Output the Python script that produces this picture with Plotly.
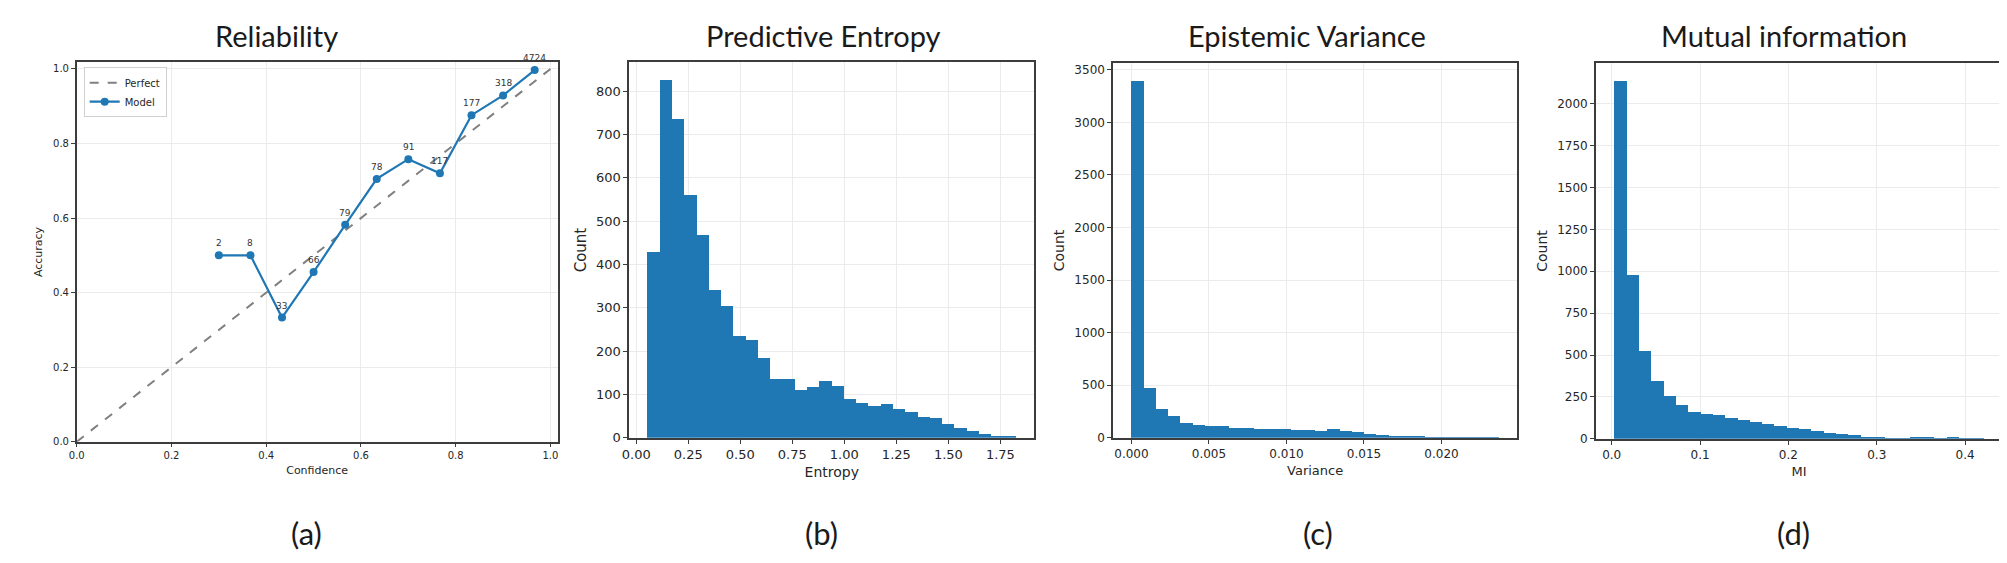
import plotly.graph_objects as go

W, H = 2007, 563

# ---------------- data ----------------
# (a) reliability diagram
conf_centers = [0.3, 0.3667, 0.4333, 0.5, 0.5667, 0.6333, 0.7, 0.7667, 0.8333, 0.9, 0.9667]
accuracy = [0.5, 0.5, 0.333, 0.455, 0.582, 0.705, 0.758, 0.72, 0.876, 0.929, 0.997]
bin_counts = [2, 8, 33, 66, 79, 78, 91, 117, 177, 318, 4724]
perfect_x = [0.0, 1.0]
perfect_y = [0.0, 1.0]

# (b) predictive entropy histogram (30 bins)
entropy_start, entropy_width = 0.055, 0.059
entropy_counts = [428, 825, 736, 559, 467, 340, 303, 235, 226, 184,
                  135, 135, 110, 116, 130, 118, 88, 80, 72, 78,
                  65, 60, 47, 45, 32, 22, 15, 8, 4, 2]

# (c) epistemic variance histogram (30 bins)
variance_start, variance_width = 0.0, 0.00079
variance_counts = [3393, 470, 270, 210, 140, 120, 115, 110, 95, 90,
                   85, 80, 78, 75, 70, 65, 80, 65, 50, 35,
                   25, 20, 12, 6, 4, 3, 2, 1, 1, 1]

# (d) mutual information histogram (30 bins)
mi_start, mi_width = 0.003, 0.01393
mi_counts = [2135, 975, 520, 345, 255, 200, 160, 145, 140, 125,
             110, 100, 90, 75, 65, 55, 45, 35, 28, 20,
             12, 8, 3, 2, 8, 5, 3, 4, 2, 1]

titles = ["Reliability", "Predictive Entropy", "Epistemic Variance", "Mutual information"]
panel_labels = ["(a)", "(b)", "(c)", "(d)"]

BLUE = "#1f77b4"
FRAME = "#3c3c3c"
GRID = "#ebebeb"
TXT = "#262626"


def centers(start, width, n):
    return [start + width * (i + 0.5) for i in range(n)]


fig = go.Figure()

# Panel (a)
fig.add_trace(go.Scatter(x=perfect_x, y=perfect_y, mode="lines", name="Perfect",
                         line=dict(color="#808080", width=2, dash="dash"),
                         xaxis="x", yaxis="y"))
fig.add_trace(go.Scatter(x=conf_centers, y=accuracy, mode="lines+markers", name="Model",
                         line=dict(color=BLUE, width=2.2),
                         marker=dict(color=BLUE, size=8),
                         xaxis="x", yaxis="y"))

# Histograms
for cnts, st, wd, ax in [(entropy_counts, entropy_start, entropy_width, "2"),
                         (variance_counts, variance_start, variance_width, "3"),
                         (mi_counts, mi_start, mi_width, "4")]:
    fig.add_trace(go.Bar(x=centers(st, wd, len(cnts)), y=cnts, width=wd,
                         marker=dict(color=BLUE, line=dict(width=0)),
                         showlegend=False, xaxis="x" + ax, yaxis="y" + ax))


def px_x(a, b):
    return [a / W, b / W]


def px_y(top, bottom):
    return [1 - bottom / H, 1 - top / H]


def axis_common(fs):
    return dict(showline=True, mirror=True, linecolor=FRAME, linewidth=1.5,
                showgrid=True, gridcolor=GRID, gridwidth=1,
                ticks="outside", ticklen=4, tickcolor=FRAME,
                zeroline=False,
                tickfont=dict(family="DejaVu Sans", size=fs, color=TXT))


layout = dict(
    width=W, height=H, margin=dict(l=0, r=0, t=0, b=0),
    paper_bgcolor="white", plot_bgcolor="white", bargap=0,
    showlegend=True,
    legend=dict(x=68 / W, y=1 - 60 / H, xanchor="left", yanchor="top",
                bgcolor="rgba(255,255,255,0.9)", bordercolor="#d0d0d0", borderwidth=1,
                font=dict(family="DejaVu Sans", size=10, color=TXT),
                itemwidth=30, tracegroupgap=0),
)

# (a)
layout["xaxis"] = dict(axis_common(10), domain=px_x(61, 544), range=[0, 1.015],
                       tickvals=[0, 0.2, 0.4, 0.6, 0.8, 1.0], tickformat=".1f",
                       title=dict(text="Confidence", standoff=6,
                                  font=dict(family="DejaVu Sans", size=11, color=TXT)),
                       anchor="y")
layout["yaxis"] = dict(axis_common(10), domain=px_y(55, 440), range=[0, 1.018],
                       tickvals=[0, 0.2, 0.4, 0.6, 0.8, 1.0], tickformat=".1f",
                       title=dict(text="Accuracy", standoff=8,
                                  font=dict(family="DejaVu Sans", size=11, color=TXT)),
                       anchor="x")

# (b)
layout["xaxis2"] = dict(axis_common(13), domain=px_x(616, 1023),
                        range=[entropy_start - 0.0885, entropy_start + 30 * entropy_width + 0.0885],
                        tickvals=[0, 0.25, 0.5, 0.75, 1.0, 1.25, 1.5, 1.75], tickformat=".2f",
                        title=dict(text="Entropy", standoff=6,
                                   font=dict(family="DejaVu Sans", size=14, color=TXT)),
                        anchor="y2")
layout["yaxis2"] = dict(axis_common(13), domain=px_y(55, 436), range=[0, 867],
                        tickvals=list(range(0, 801, 100)),
                        title=dict(text="Count", standoff=6,
                                   font=dict(family="DejaVu Sans", size=15, color=TXT)),
                        anchor="x2")

# (c)
vr = 30 * variance_width
layout["xaxis3"] = dict(axis_common(12), domain=px_x(1102, 1508),
                        range=[variance_start - 0.05 * vr, variance_start + 1.05 * vr],
                        tickvals=[0, 0.005, 0.01, 0.015, 0.02], tickformat=".3f",
                        title=dict(text="Variance", standoff=6,
                                   font=dict(family="DejaVu Sans", size=13, color=TXT)),
                        anchor="y3")
layout["yaxis3"] = dict(axis_common(12), domain=px_y(56, 436), range=[0, 3563],
                        tickvals=list(range(0, 3501, 500)),
                        title=dict(text="Count", standoff=6,
                                   font=dict(family="DejaVu Sans", size=14, color=TXT)),
                        anchor="x3")

# (d)
mr = 30 * mi_width
layout["xaxis4"] = dict(axis_common(12), domain=px_x(1587, 1995),
                        range=[mi_start - 0.05 * mr, mi_start + 1.05 * mr],
                        tickvals=[0, 0.1, 0.2, 0.3, 0.4], tickformat=".1f",
                        title=dict(text="MI", standoff=6,
                                   font=dict(family="DejaVu Sans", size=13, color=TXT)),
                        anchor="y4")
layout["yaxis4"] = dict(axis_common(12), domain=px_y(56, 437), range=[0, 2242],
                        tickvals=list(range(0, 2001, 250)),
                        title=dict(text="Count", standoff=6,
                                   font=dict(family="DejaVu Sans", size=14, color=TXT)),
                        anchor="x4")

fig.update_layout(**layout)

annotations = []
# count labels above reliability points
for xv, yv, c in zip(conf_centers, accuracy, bin_counts):
    annotations.append(dict(x=xv, y=yv, xref="x", yref="y", text=str(c), showarrow=False,
                            yshift=12, font=dict(family="DejaVu Sans", size=9, color="#333333")))

title_x = [262, 811, 1297, 1776]
label_x = [292, 809, 1308, 1786]
for t, tx in zip(titles, title_x):
    annotations.append(dict(x=tx / W, y=1 - 28 / H, xref="paper", yref="paper", text=t,
                            showarrow=False, xanchor="center", yanchor="middle",
                            font=dict(family="Lato", size=29, color="#1a1a1a")))
for t, lx in zip(panel_labels, label_x):
    annotations.append(dict(x=lx / W, y=1 - 533 / H, xref="paper", yref="paper", text=t,
                            showarrow=False, xanchor="center", yanchor="middle",
                            font=dict(family="Lato", size=31, color="#1a1a1a")))

fig.update_layout(annotations=annotations)

fig.write_html("out.html")
